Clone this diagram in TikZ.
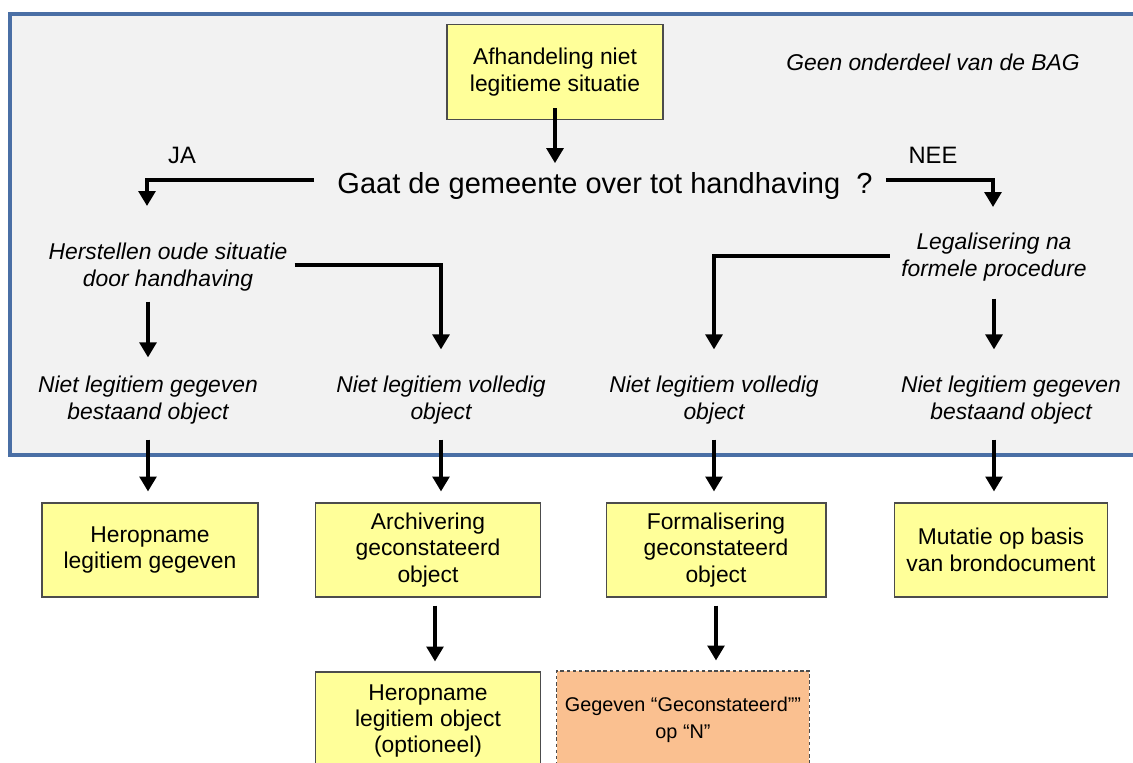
\documentclass[tikz,border=0pt]{standalone}
\usepackage{fontspec}
\setmainfont{Liberation Sans}
\usetikzlibrary{arrows.meta}
\definecolor{paneel}{HTML}{F2F2F2}
\definecolor{paneelrand}{HTML}{4A6FA5}
\definecolor{geel}{HTML}{FFFF99}
\definecolor{oranje}{HTML}{FAC090}

\begin{document}
\begin{tikzpicture}[x=0.02cm,y=-0.02cm,
  blok/.style={draw=black!70,fill=geel,line width=0.6pt,minimum height=1.88cm,
    align=center,inner sep=0pt,font=\fontsize{13}{15}\selectfont},
  tekst/.style={align=center,inner sep=0pt,font=\fontsize{13}{15.5}\selectfont\itshape},
  pijl/.style={line width=2pt,-{Triangle[width=9.5pt,length=8.5pt]}}]
\useasboundingbox (0,0) rectangle (1133,762);
% grijs vlak: geen onderdeel van de BAG
\draw[draw=paneelrand,line width=1.8pt,fill=paneel] (10,14) rectangle (1150,455);
\node[tekst] (bag) at (933,62) {Geen onderdeel van de BAG};
\node[blok,minimum width=4.32cm,minimum height=1.9cm] (top) at (555,72) {Afhandeling niet\\legitieme situatie};
\node[inner sep=0pt,font=\fontsize{16.5}{18}\selectfont] (vraag) at (605,186) {Gaat de gemeente over tot handhaving\ \ ?};
\node[inner sep=0pt,font=\fontsize{13.5}{15}\selectfont] (ja) at (182,155) {JA};
\node[inner sep=0pt,font=\fontsize{13.5}{15}\selectfont] (nee) at (933,155) {NEE};
\coordinate (jaeind) at (147,206);
\coordinate (neeeind) at (993,207);
\node[tekst] (herstel) at (168,267) {Herstellen oude situatie\\door handhaving};
\node[tekst] (legal) at (994,257) {Legalisering na\\formele procedure};
\node[tekst] (nlg1) at (148,400) {Niet legitiem gegeven\\bestaand object};
\node[tekst] (nlv1) at (441,400) {Niet legitiem volledig\\object};
\node[tekst] (nlv2) at (714,400) {Niet legitiem volledig\\object};
\node[tekst] (nlg2) at (1011,400) {Niet legitiem gegeven\\bestaand object};
% blokken onder het vlak
\node[blok,minimum width=4.32cm] (heropname) at (150,550) {Heropname\\legitiem gegeven};
\node[blok,minimum width=4.5cm] (archiv) at (428,550) {Archivering\\geconstateerd\\object};
\node[blok,minimum width=4.4cm] (formal) at (716,550) {Formalisering\\geconstateerd\\object};
\node[blok,minimum width=4.26cm] (mutatie) at (1001,550) {Mutatie op basis\\van brondocument};
\node[blok,minimum width=4.5cm,minimum height=1.96cm] (heropobj) at (428,721) {Heropname\\legitiem object\\(optioneel)};
\node[blok,fill=oranje,dash pattern=on 2pt off 1.5pt,minimum width=5.06cm,minimum height=1.96cm,
  font=\fontsize{11.3}{15}\selectfont] (gegeven) at (683,720) {Gegeven “Geconstateerd””\\op “N”};
% pijlen
\draw[pijl,shorten <=-0.24cm,shorten >=0.18cm] (top.south) -- (top.south |- vraag.north);
\draw[pijl] ([xshift=-0.46cm,yshift=0.12cm]vraag.west) -| (jaeind);
\draw[pijl] ([xshift=0.26cm,yshift=0.12cm]vraag.east) -| (neeeind);
\draw[pijl,shorten >=0.52cm] ([xshift=0.14cm,yshift=0.04cm]herstel.east) -| (nlv1.north);
\draw[pijl,shorten <=0.2cm,shorten >=0.36cm] (herstel.south -| nlg1.north) -- (nlg1.north);
\draw[pijl,shorten >=0.52cm] ([xshift=-0.22cm,yshift=0.02cm]legal.west) -| (nlv2.north);
\draw[pijl,shorten <=0.34cm,shorten >=0.52cm] (legal.south) -- (legal.south |- nlg2.north);
\draw[pijl,shorten <=0.3cm,shorten >=0.22cm] (nlg1.south) -- (nlg1.south |- heropname.north);
\draw[pijl,shorten <=0.3cm,shorten >=0.22cm] (nlv1.south) -- (nlv1.south |- archiv.north);
\draw[pijl,shorten <=0.3cm,shorten >=0.22cm] (nlv2.south) -- (nlv2.south |- formal.north);
\draw[pijl,shorten <=0.3cm,shorten >=0.22cm] (legal.south |- nlg2.south) -- (legal.south |- mutatie.north);
\draw[pijl,shorten <=0.16cm,shorten >=0.2cm] ([xshift=0.14cm]archiv.south) -- ([xshift=0.14cm]heropobj.north);
\draw[pijl,shorten <=0.16cm,shorten >=0.2cm] (formal.south) -- (formal.south |- gegeven.north);
\end{tikzpicture}
\end{document}
